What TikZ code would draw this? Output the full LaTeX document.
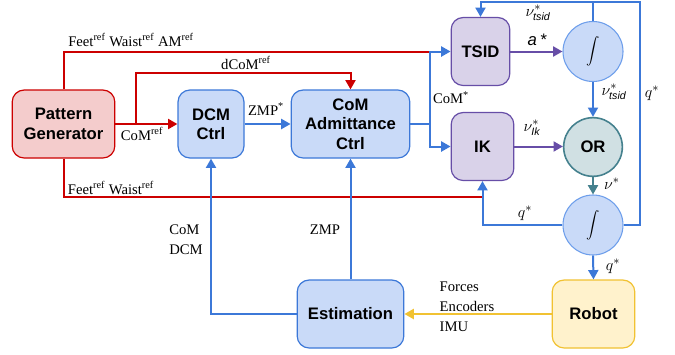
\documentclass[tikz,border=0pt]{standalone}
\usepackage{fontspec}
\setmainfont{Liberation Serif}
\setsansfont{Liberation Sans}
\usetikzlibrary{arrows.meta}
\definecolor{pgfill}{RGB}{244,204,204}
\definecolor{pgdraw}{RGB}{204,0,0}
\definecolor{blfill}{RGB}{201,218,248}
\definecolor{bldraw}{RGB}{60,120,216}
\definecolor{cirdraw}{RGB}{109,158,235}
\definecolor{pufill}{RGB}{217,210,233}
\definecolor{pudraw}{RGB}{103,78,167}
\definecolor{orfill}{RGB}{208,224,227}
\definecolor{ordraw}{RGB}{69,129,142}
\definecolor{yefill}{RGB}{255,242,204}
\definecolor{yedraw}{RGB}{241,194,50}
\newcommand{\rf}{\textsuperscript{ref}}
\newcommand{\sub}[1]{\mbox{\footnotesize\sffamily\itshape #1}}

\begin{document}
\begin{tikzpicture}[x=0.75pt,y=0.75pt,yscale=-1,xscale=1,
	box/.style={rounded corners=9pt,line width=0.9pt,font=\sffamily\bfseries\fontsize{12.5}{14.5}\selectfont,align=center,inner sep=0pt},
	integ/.style={circle,draw=cirdraw,fill=blfill,line width=0.8pt,minimum size=45pt,inner sep=0pt,font=\normalsize},
	lab/.style={font=\fontsize{11}{15}\selectfont,inner sep=1pt},
	mlab/.style={font=\fontsize{12.5}{15}\selectfont,inner sep=1pt},
	con/.style={line width=1.5pt,-{Triangle[width=7.5pt,length=7pt]}},
	wire/.style={line width=1.5pt}]
\useasboundingbox (0,0) rectangle (675,354);

% blocks
\node[box,draw=pgdraw,fill=pgfill,minimum width=77pt,minimum height=51pt] (pg) at (63.5,124) {Pattern\\Generator};
\node[box,draw=bldraw,fill=blfill,minimum width=49.5pt,minimum height=51pt] (dcm) at (211,124) {DCM\\Ctrl};
\node[box,draw=bldraw,fill=blfill,minimum width=89pt,minimum height=51pt] (adm) at (350.5,124) {CoM\\Admittance\\Ctrl};
\node[box,draw=pudraw,fill=pufill,minimum width=44pt,minimum height=51pt] (tsid) at (480.5,51.5) {TSID};
\node[box,draw=pudraw,fill=pufill,minimum width=47pt,minimum height=51pt] (ik) at (482.5,146.5) {IK};
\node[integ] (int1) at (593,51.5) {$\displaystyle\int$};
\node[integ,draw=ordraw,fill=orfill,line width=1.2pt,minimum size=44pt,font=\sffamily\bfseries\fontsize{12.5}{14.5}\selectfont] (or) at (593,147) {OR};
\node[integ] (int2) at (593,225) {$\displaystyle\int$};
\node[box,draw=yedraw,fill=yefill,minimum width=62pt,minimum height=51pt] (robot) at (593.5,314) {Robot};
\node[box,draw=bldraw,fill=blfill,minimum width=80pt,minimum height=51pt] (est) at (350.5,314) {Estimation};

% junctions
\coordinate (jt) at (430,51.5);
\coordinate (jc) at (430,124);
\coordinate (ji) at (430,146.5);
\coordinate (jd) at (136,124);
\coordinate (jb) at (482.5,197);
\coordinate (jr) at (640,1.5);

% reference lines
\draw[wire,pgdraw] (pg.north) |- (jt);
\draw[con,pgdraw] (pg.east) -- (dcm.west);
\draw[con,pgdraw] (jd) -- (jd |- 0,73) -| (adm.north);
\draw[wire,pgdraw] (pg.south) |- (jb);

% controller lines
\draw[con,bldraw] (dcm.east) -- (adm.west);
\draw[wire,bldraw] (adm.east) -- (jc);
\draw[con,bldraw] (jc) -- (jt) -- (tsid.west);
\draw[con,bldraw] (jc) -- (ji) -- (ik.west);
\draw[con,pudraw] (tsid.east) -- (int1.west);
\draw[con,pudraw] (ik.east) -- (ik.east -| or.west);
\draw[con,bldraw] (int1.south) -- (or.north);
\draw[con,ordraw] (or.south) -- (int2.north);
\draw[con,bldraw] (int2.south) -- (robot.north);
\draw[con,bldraw] (int2.west) -| (ik.south);
\draw[con,bldraw] (int2.east) -| (jr) -| (tsid.north);
\draw[wire,bldraw] (int1.north) -- (int1.north |- jr);

% feedback
\draw[con,yedraw] (robot.west) -- (est.east);
\draw[con,bldraw] (est.west) -| (dcm.south);
\draw[con,bldraw] (est.north) -- (adm.south);

% labels
\node[lab] (lfwa) at (131,40) {Feet\rf{} Waist\rf{} AM\rf};
\node[lab] (ldcom) at (246,63) {dCoM\rf};
\node[lab] (lcom) at (142,134) {CoM\rf};
\node[lab] (lzmps) at (266,109) {ZMP\textsuperscript{*}};
\node[lab] (lfw) at (111,188) {Feet\rf{} Waist\rf};
\node[lab] (lcoms) at (451,98) {CoM\textsuperscript{*}};
\node[mlab] (lnt1) at (538,13) {$\nu^{*}_{\sub{tsid}}$};
\node[mlab] (la) at (537,40) {\sffamily\itshape a\,*};
\node[mlab] (lnt2) at (614,92) {$\nu^{*}_{\sub{tsid}}$};
\node[mlab] (lq1) at (652,93) {$q^{*}$};
\node[mlab] (lnik) at (532,128) {$\nu^{*}_{\sub{Ik}}$};
\node[mlab] (ln) at (612,184) {$\nu^{*}$};
\node[mlab] (lq2) at (525,213) {$q^{*}$};
\node[mlab] (lq3) at (613,266) {$q^{*}$};
\node[lab,align=left] (lcd) at (186,240) {CoM\\DCM};
\node[lab] (lzmp) at (325,230) {ZMP};
\node[lab,align=left] (lfei) at (467,307) {Forces\\Encoders\\IMU};
\end{tikzpicture}
\end{document}
